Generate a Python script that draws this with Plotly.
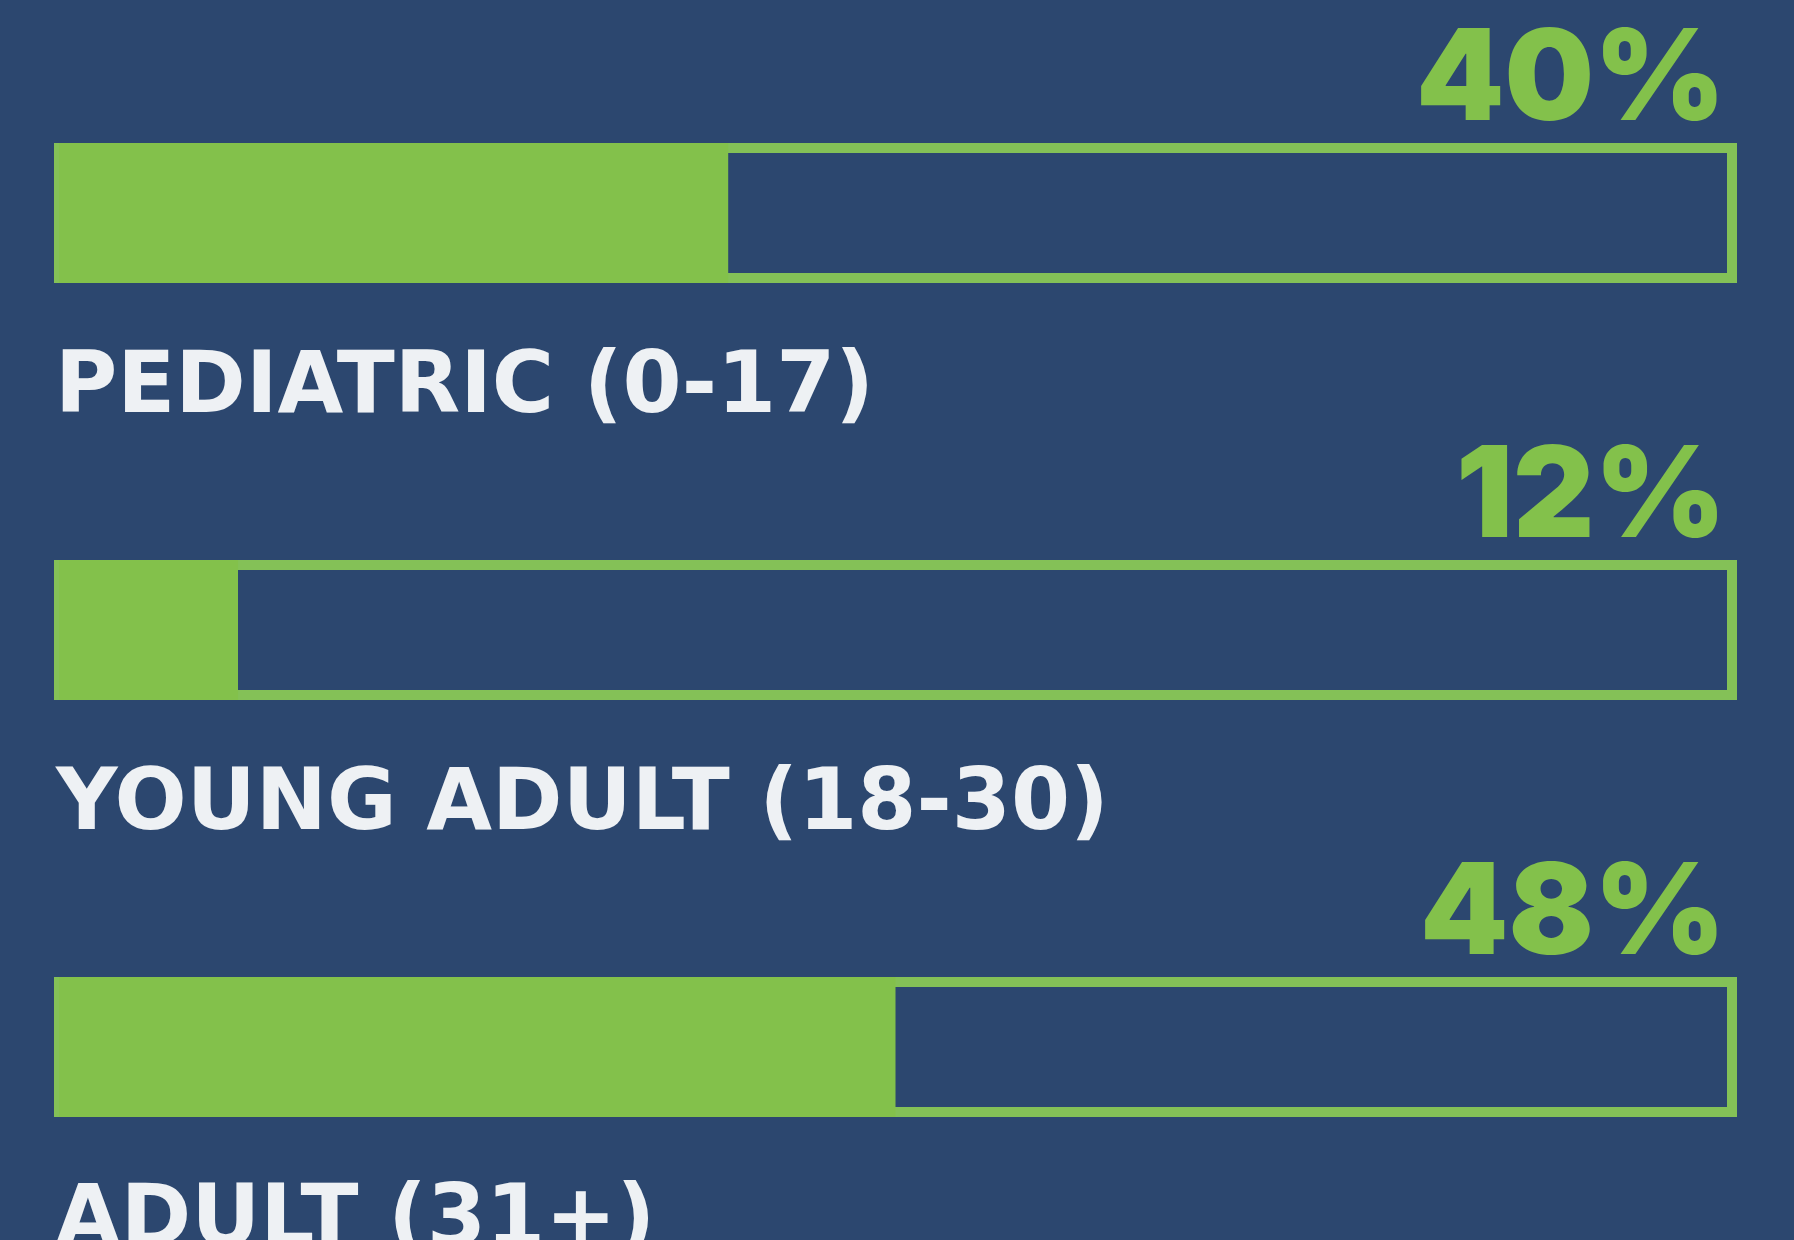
import plotly.graph_objects as go

# ---- data ----
categories = ["PEDIATRIC (0-17)", "YOUNG ADULT (18-30)", "ADULT (31+)"]
percent_labels = [40, 12, 48]          # printed values
bar_fill = [40, 10.7, 50]              # drawn fill length (% of track)
track_max = [100, 100, 100]

BG = "#2C476F"
GREEN = "#83C14B"
OUTLINE = "#84C157"
TEXT = "#EEF1F4"

y_pos = list(range(len(categories)))

fig = go.Figure()
# outlined track
fig.add_trace(go.Bar(
    y=y_pos, x=track_max, orientation="h", width=0.312,
    marker=dict(color=BG, line=dict(color=OUTLINE, width=10)),
    hoverinfo="skip", showlegend=False,
))
# filled part
fig.add_trace(go.Bar(
    y=y_pos, x=bar_fill, orientation="h", width=0.336,
    marker=dict(color=GREEN, line=dict(width=0)),
    hoverinfo="skip", showlegend=False,
))

annotations = []
for i, cat in enumerate(categories):
    annotations.append(dict(
        x=100, y=y_pos[i], xref="x", yref="y", xanchor="right", yanchor="middle",
        text=f"{percent_labels[i]}%", showarrow=False, xshift=-4, yshift=139,
        font=dict(family="Inter", size=126, color=GREEN, weight=900),
    ))
    annotations.append(dict(
        x=0, y=y_pos[i], xref="x", yref="y", xanchor="left", yanchor="middle",
        text=cat, showarrow=False, xshift=-6, yshift=-169,
        font=dict(family="DejaVu Sans", size=85, color=TEXT, weight=700),
    ))

fig.update_layout(
    width=1794, height=1240,
    paper_bgcolor=BG, plot_bgcolor=BG,
    margin=dict(l=54, r=57, t=0, b=0),
    barmode="overlay",
    xaxis=dict(range=[-0.299, 100.299], visible=False, fixedrange=True),
    yaxis=dict(range=[2.463, -0.511], visible=False, fixedrange=True),
    annotations=annotations,
    showlegend=False,
)

fig.write_html(
    "out.html",
    config={"displayModeBar": False},
    post_script="document.body.style.margin='0';document.body.style.overflow='hidden';document.body.style.background='%s';" % BG,
)
